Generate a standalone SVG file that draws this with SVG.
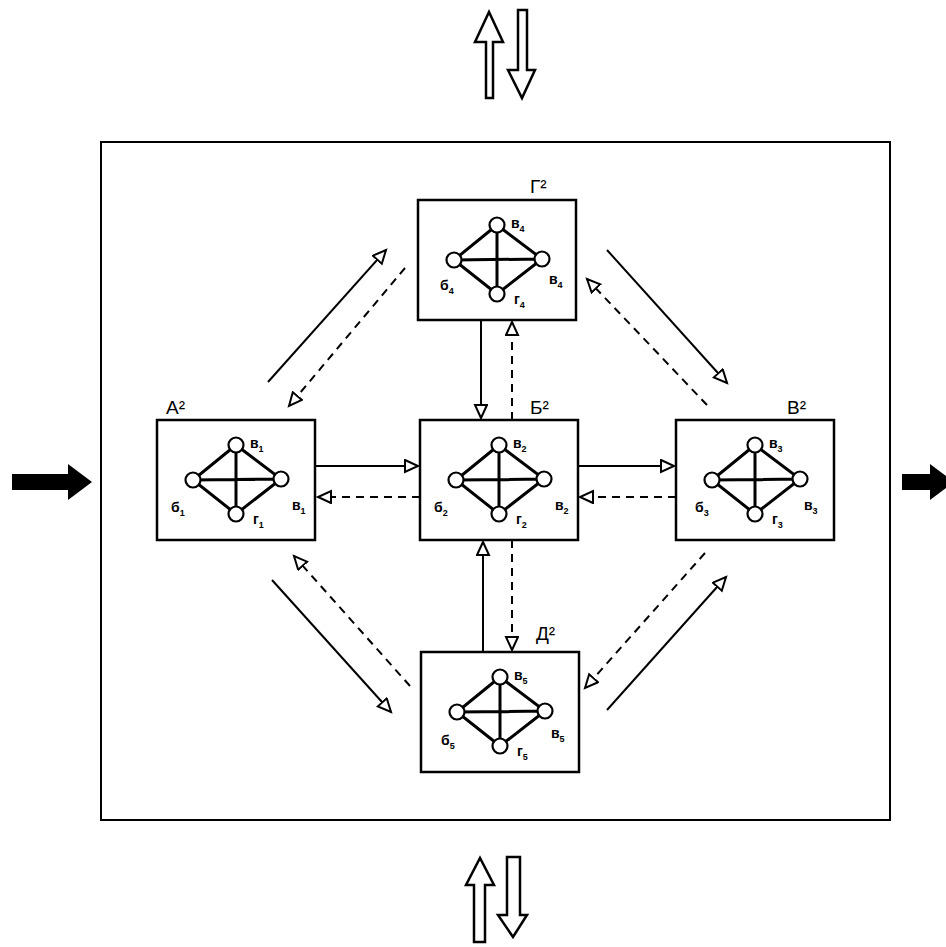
<svg xmlns="http://www.w3.org/2000/svg" width="946" height="947" viewBox="0 0 946 947">
<defs>
<style>
.box{fill:#fff;stroke:#000;stroke-width:2.5}
.frame{fill:#fff;stroke:#000;stroke-width:2}
.e{stroke:#000;stroke-width:3;fill:none}
.c{fill:#fff;stroke:#000;stroke-width:2.2}
.s{font-family:"Liberation Sans",Arial,sans-serif;font-size:14px;font-weight:bold;fill:#000}
.sub{font-size:9px}
.t{font-family:"Liberation Sans",Arial,sans-serif;font-size:19px;fill:#000}
.sol{stroke:#000;stroke-width:2;fill:none;marker-end:url(#oa)}
.dash{stroke:#000;stroke-width:2;fill:none;stroke-dasharray:8 6;marker-end:url(#oa)}
.hollow{fill:#fff;stroke:#000;stroke-width:2.5;stroke-linejoin:miter}
</style>
<marker id="oa" markerUnits="userSpaceOnUse" markerWidth="20" markerHeight="16" refX="14" refY="7" orient="auto">
<path d="M1,1 L14,7 L1,13 Z" fill="#fff" stroke="#000" stroke-width="2"/>
</marker>
<g id="net">
<rect class="box" x="0" y="0" width="158" height="120"/>
<path class="e" d="M79,25 L36,60 L79,94 L124,59 Z M36,60 L124,59 M79,25 L79,94"/>
<circle class="c" cx="79" cy="25" r="7.5"/>
<circle class="c" cx="36" cy="60" r="7.5"/>
<circle class="c" cx="124" cy="59" r="7.5"/>
<circle class="c" cx="79" cy="94" r="7.5"/>
</g>
</defs>
<rect width="946" height="947" fill="#fff"/>
<rect class="frame" x="101" y="142" width="789" height="678"/>

<g id="connectors">
<line class="sol" x1="316" y1="466" x2="418" y2="466"/>
<line class="dash" x1="420" y1="497" x2="318" y2="497"/>
<line class="sol" x1="578" y1="466" x2="674" y2="466"/>
<line class="dash" x1="676" y1="497" x2="580" y2="497"/>
<line class="sol" x1="481" y1="320" x2="481" y2="418"/>
<line class="dash" x1="512" y1="420" x2="512" y2="322"/>
<line class="dash" x1="512" y1="540" x2="512" y2="650"/>
<line class="sol" x1="483" y1="652" x2="483" y2="542"/>
<line class="sol" x1="268" y1="382" x2="386" y2="250"/>
<line class="dash" x1="405" y1="268" x2="289" y2="406"/>
<line class="sol" x1="607" y1="250" x2="727" y2="383"/>
<line class="dash" x1="707" y1="405" x2="587" y2="279"/>
<line class="sol" x1="272" y1="580" x2="391" y2="712"/>
<line class="dash" x1="410" y1="686" x2="294" y2="556"/>
<line class="sol" x1="607" y1="710" x2="726" y2="577"/>
<line class="dash" x1="705" y1="553" x2="585" y2="688"/>
<path d="M12,474 L68,474 L68,464 L92,482 L68,500 L68,490 L12,490 Z" fill="#000"/>
<path d="M902,474 L930,474 L930,464 L946,476 L946,488 L930,500 L930,490 L902,490 Z" fill="#000"/>
<path class="hollow" d="M486,98 L486,42 L475,42 L489,12 L503,42 L493,42 L493,98 Z"/>
<path class="hollow" d="M518,10 L527,10 L527,70 L535,70 L522,98 L508,70 L518,70 Z"/>
<path class="hollow" d="M474,942 L474,885 L466,885 L480,858 L494,885 L485,885 L485,942 Z"/>
<path class="hollow" d="M507,857 L520,857 L520,915 L527,915 L513,937 L498,915 L507,915 Z"/>
</g>

<g id="node-G">
<use href="#net" x="418" y="200"/>
<text class="t" x="530" y="193">Г²</text>
<text class="s" x="511" y="228">в<tspan class="sub" dy="4">4</tspan></text>
<text class="s" x="440" y="290">б<tspan class="sub" dy="4">4</tspan></text>
<text class="s" x="549" y="284">в<tspan class="sub" dy="4">4</tspan></text>
<text class="s" x="514" y="304">г<tspan class="sub" dy="4">4</tspan></text>
</g>

<g id="node-A">
<use href="#net" x="157" y="420"/>
<text class="t" x="166" y="414">А²</text>
<text class="s" x="250" y="448">в<tspan class="sub" dy="4">1</tspan></text>
<text class="s" x="171" y="512">б<tspan class="sub" dy="4">1</tspan></text>
<text class="s" x="292" y="510">в<tspan class="sub" dy="4">1</tspan></text>
<text class="s" x="253" y="524">г<tspan class="sub" dy="4">1</tspan></text>
</g>

<g id="node-B">
<use href="#net" x="420" y="420"/>
<text class="t" x="530" y="414">Б²</text>
<text class="s" x="513" y="448">в<tspan class="sub" dy="4">2</tspan></text>
<text class="s" x="434" y="512">б<tspan class="sub" dy="4">2</tspan></text>
<text class="s" x="555" y="510">в<tspan class="sub" dy="4">2</tspan></text>
<text class="s" x="516" y="524">г<tspan class="sub" dy="4">2</tspan></text>
</g>

<g id="node-V">
<use href="#net" x="676" y="420"/>
<text class="t" x="787" y="414">В²</text>
<text class="s" x="769" y="448">в<tspan class="sub" dy="4">3</tspan></text>
<text class="s" x="695" y="512">б<tspan class="sub" dy="4">3</tspan></text>
<text class="s" x="804" y="510">в<tspan class="sub" dy="4">3</tspan></text>
<text class="s" x="772" y="524">г<tspan class="sub" dy="4">3</tspan></text>
</g>

<g id="node-D">
<use href="#net" x="421" y="652"/>
<text class="t" x="536" y="640">Д²</text>
<text class="s" x="514" y="680">в<tspan class="sub" dy="4">5</tspan></text>
<text class="s" x="441" y="745">б<tspan class="sub" dy="4">5</tspan></text>
<text class="s" x="551" y="738">в<tspan class="sub" dy="4">5</tspan></text>
<text class="s" x="517" y="756">г<tspan class="sub" dy="4">5</tspan></text>
</g>
</svg>
